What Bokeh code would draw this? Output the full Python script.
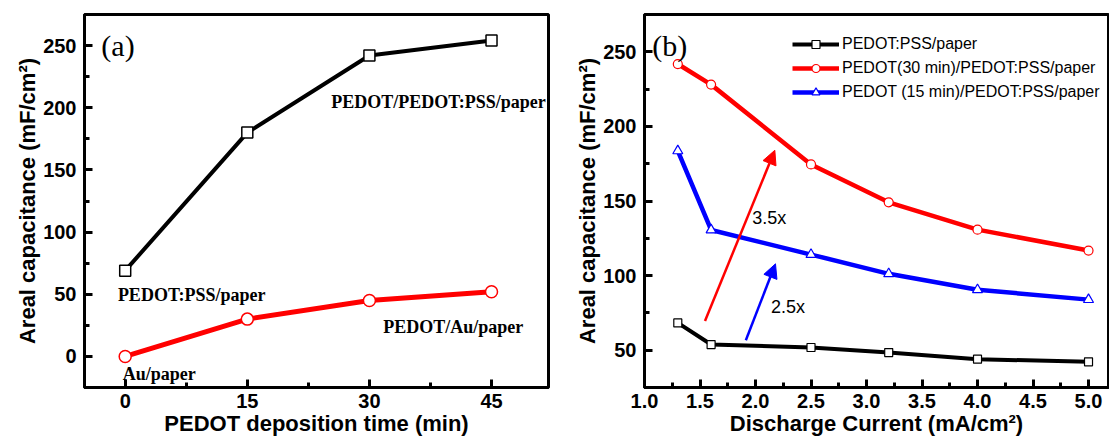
from bokeh.plotting import figure
from bokeh.models import (FixedTicker, Legend, LegendItem, Arrow, NormalHead,
                          Range1d, PrintfTickFormatter)
from bokeh.layouts import row
from bokeh.embed import file_html
from bokeh.resources import INLINE
from bokeh.core.properties import value

# ---------------- data: panel (a) ----------------
dep_time = [0, 15, 30, 45]
cap_pedot_pss = [69, 180, 242, 254]
cap_au = [0, 30, 45, 52]
a_xticks = [0, 15, 30, 45]
a_xminor = [7.5, 22.5, 37.5]
a_yticks = [0, 50, 100, 150, 200, 250]
a_yminor = [-25, 25, 75, 125, 175, 225, 275]
a_labels = ["PEDOT/PEDOT:PSS/paper", "PEDOT:PSS/paper", "PEDOT/Au/paper", "Au/paper"]
a_label_x = [25.3, -0.9, 31.7, -0.3]
a_label_y = [205, 49, 23.3, -14.5]

# ---------------- data: panel (b) ----------------
current = [1.3, 1.6, 2.5, 3.2, 4.0, 5.0]
b_pss = [68.3, 53.8, 51.8, 48.4, 44.0, 42.2]
b_30 = [241.8, 228.0, 174.5, 149.1, 130.8, 116.8]
b_15 = [183.6, 130.6, 114.1, 101.2, 90.5, 83.9]
b_names = ["PEDOT:PSS/paper", "PEDOT(30 min)/PEDOT:PSS/paper",
           "PEDOT (15 min)/PEDOT:PSS/paper"]
b_xticks = [1.0, 1.5, 2.0, 2.5, 3.0, 3.5, 4.0, 4.5, 5.0]
b_xminor = [1.25, 1.75, 2.25, 2.75, 3.25, 3.75, 4.25, 4.75]
b_yticks = [50, 100, 150, 200, 250]
b_yminor = [25, 75, 125, 175, 225, 275]
arrow_x0 = [1.545, 1.913]
arrow_y0 = [69.6, 56.7]
arrow_x1 = [2.174, 2.18]
arrow_y1 = [184.0, 107.9]
arrow_colors = ["#FF0000", "#0000FF"]
ratio_labels = ["3.5x", "2.5x"]
ratio_x = [1.97, 2.14]
ratio_y = [138.6, 79.0]

SANS = "Liberation Sans"
SERIF = "Liberation Serif"


def style(p, xstand, ystand):
    p.outline_line_color = "black"
    p.outline_line_width = 3
    p.outline_line_alpha = 1.0
    p.xgrid.visible = False
    p.ygrid.visible = False
    p.background_fill_color = "white"
    p.border_fill_color = "white"
    for ax in p.axis:
        ax.axis_line_width = 3
        ax.axis_line_color = "black"
        ax.major_tick_line_width = 3
        ax.minor_tick_line_width = 3
        ax.major_tick_in = 8
        ax.major_tick_out = 0
        ax.minor_tick_in = 5
        ax.minor_tick_out = 0
        ax.major_label_text_font = SANS
        ax.major_label_text_font_style = "bold"
        ax.major_label_text_font_size = "20px"
        ax.major_label_text_color = "black"
        ax.axis_label_text_font = SANS
        ax.axis_label_text_font_style = "bold"
        ax.axis_label_text_font_size = "22px"
        ax.axis_label_text_color = "black"
        ax.axis_label_standoff = 0
    p.xaxis.major_label_standoff = xstand
    p.yaxis.major_label_standoff = ystand


# ---------------- panel (a) ----------------
pa = figure(frame_width=464, frame_height=373, min_border_left=84, min_border_right=12,
            min_border_top=14, min_border_bottom=52, output_backend="svg",
            toolbar_location=None, x_range=Range1d(-5, 52), y_range=Range1d(-25, 275))
style(pa, 6, 8)
pa.xaxis.ticker = FixedTicker(ticks=a_xticks, minor_ticks=a_xminor)
pa.yaxis.ticker = FixedTicker(ticks=a_yticks, minor_ticks=a_yminor)
pa.xaxis.axis_label = "PEDOT deposition time (min)"
pa.yaxis.axis_label = "Areal capacitance (mF/cm²)"

pa.line(dep_time, cap_pedot_pss, line_color="black", line_width=4)
pa.scatter(dep_time, cap_pedot_pss, marker="square", size=11, fill_color="white",
           line_color="black", line_width=1.5)
pa.line(dep_time, cap_au, line_color="#FF0000", line_width=5)
pa.scatter(dep_time, cap_au, marker="circle", size=12, fill_color="white",
           line_color="#FF0000", line_width=1.5)

pa.text(x=a_label_x, y=a_label_y, text=a_labels, text_font=value(SERIF),
        text_font_style="bold", text_font_size="18px", text_color="black",
        text_align="left", text_baseline="alphabetic")
pa.text(x=[-2.93], y=[250], text=["(a)"], text_font=value(SERIF),
        text_font_size="30px", text_color="black", text_align="left",
        text_baseline="alphabetic")

# ---------------- panel (b) ----------------
pb = figure(frame_width=464, frame_height=373, min_border_left=84, min_border_right=1,
            min_border_top=14, min_border_bottom=52, output_backend="svg",
            toolbar_location=None, x_range=Range1d(1.0, 5.18), y_range=Range1d(25, 275))
style(pb, 6, 8)
pb.xaxis.ticker = FixedTicker(ticks=b_xticks, minor_ticks=b_xminor)
pb.xaxis.formatter = PrintfTickFormatter(format="%.1f")
pb.yaxis.ticker = FixedTicker(ticks=b_yticks, minor_ticks=b_yminor)
pb.xaxis.axis_label = "Discharge Current (mA/cm²)"
pb.yaxis.axis_label = "Areal capacitance (mF/cm²)"

l1 = pb.line(current, b_pss, line_color="black", line_width=4)
s1 = pb.scatter(current, b_pss, marker="square", size=8, fill_color="white",
                line_color="black", line_width=1.2)
l2 = pb.line(current, b_30, line_color="#FF0000", line_width=4.5)
s2 = pb.scatter(current, b_30, marker="circle", size=9, fill_color="white",
                line_color="#FF0000", line_width=1.2)
l3 = pb.line(current, b_15, line_color="#0000FF", line_width=4.5)
s3 = pb.scatter(current, b_15, marker="triangle", size=10, fill_color="white",
                line_color="#0000FF", line_width=1.2)

for x0, y0, x1, y1, c in zip(arrow_x0, arrow_y0, arrow_x1, arrow_y1, arrow_colors):
    pb.add_layout(Arrow(x_start=x0, y_start=y0, x_end=x1, y_end=y1,
                        line_color=c, line_width=2.5,
                        end=NormalHead(size=14, fill_color=c, line_color=c)))

pb.text(x=ratio_x, y=ratio_y, text=ratio_labels, text_font=value(SANS),
        text_font_size="18px", text_color="black", text_align="left",
        text_baseline="middle")
pb.text(x=[1.07], y=[254], text=["(b)"], text_font=value(SERIF),
        text_font_size="30px", text_color="black", text_align="left",
        text_baseline="alphabetic")

legend = Legend(items=[LegendItem(label=b_names[0], renderers=[l1, s1]),
                       LegendItem(label=b_names[1], renderers=[l2, s2]),
                       LegendItem(label=b_names[2], renderers=[l3, s3])],
                location=(148, 285), padding=0, margin=0, spacing=4,
                glyph_width=47, glyph_height=20, label_height=20, label_standoff=3,
                border_line_color=None, background_fill_alpha=0,
                label_text_font=SANS, label_text_font_size="16px",
                label_text_color="black")
pb.add_layout(legend)

layout = row(pa, pb)
open("out.html", "w").write(file_html(layout, INLINE))
